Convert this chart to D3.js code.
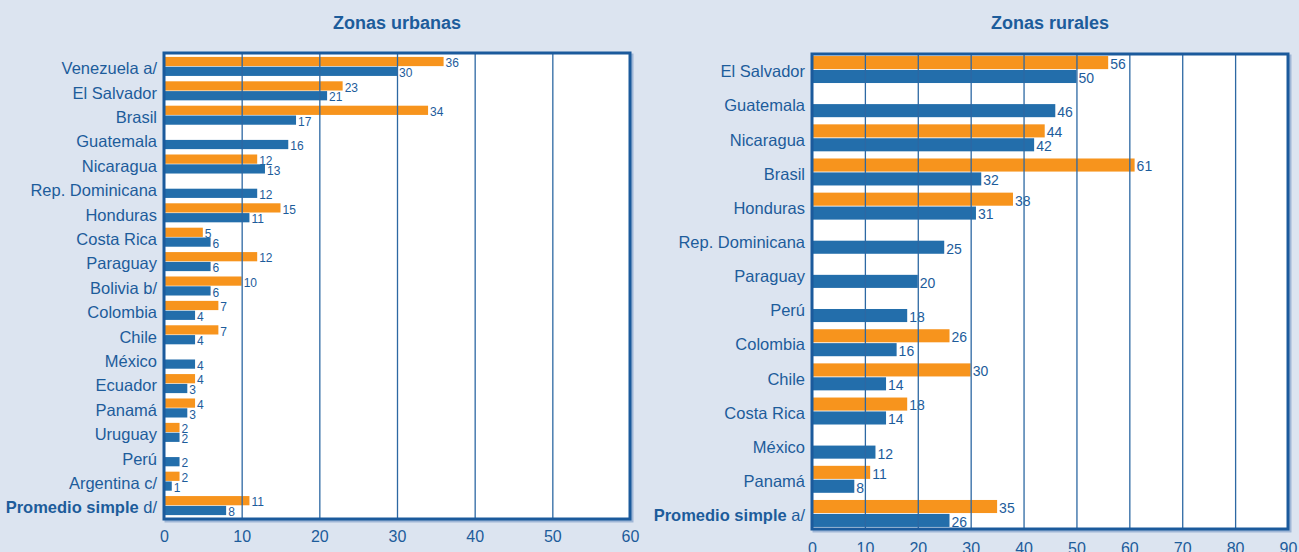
<!DOCTYPE html>
<html>
<head>
<meta charset="utf-8">
<script src="https://cdn.jsdelivr.net/npm/d3@7"></script>
<style>
  html, body { margin: 0; padding: 0; background: #dce4f0; }
  svg { display: block; }
</style>
</head>
<body>
<div id="chart"></div>
<script>
/*
* Zonas urbanas / Zonas rurales
*/

// urban panel
var urbanCategories = ["Venezuela a/", "El Salvador", "Brasil", "Guatemala", "Nicaragua",
    "Rep. Dominicana", "Honduras", "Costa Rica", "Paraguay", "Bolivia b/", "Colombia",
    "Chile", "México", "Ecuador", "Panamá", "Uruguay", "Perú", "Argentina c/",
    "Promedio simple d/"];
var urbanOrange = [36, 23, 34, null, 12, null, 15, 5, 12, 10, 7, 7, null, 4, 4, 2, null, 2, 11];
var urbanBlue   = [30, 21, 17, 16, 13, 12, 11, 6, 6, 6, 4, 4, 4, 3, 3, 2, 2, 1, 8];
var urbanTicks  = [0, 10, 20, 30, 40, 50, 60];

// rural panel
var ruralCategories = ["El Salvador", "Guatemala", "Nicaragua", "Brasil", "Honduras",
    "Rep. Dominicana", "Paraguay", "Perú", "Colombia", "Chile", "Costa Rica", "México",
    "Panamá", "Promedio simple a/"];
var ruralOrange = [56, null, 44, 61, 38, null, null, null, 26, 30, 18, null, 11, 35];
var ruralBlue   = [50, 46, 42, 32, 31, 25, 20, 18, 16, 14, 14, 12, 8, 26];
var ruralTicks  = [0, 10, 20, 30, 40, 50, 60, 70, 80, 90];

(function () {

    "use strict";

    var ORANGE = "#f7941d",
        BLUE = "#236eab",
        TEXT = "#1d5c9b",
        FRAME = "#1b5a9c",
        GRID = "#2d68a3",
        FONT = "'Liberation Sans', Arial, sans-serif";

    var svg = d3.select("#chart")
        .append("svg")
            .attr("width", 1299)
            .attr("height", 552);

    svg.append("rect")
        .attr("width", 1299)
        .attr("height", 552)
        .attr("fill", "#dce4f0");

    function drawPanel(cfg) {

        var g = svg.append("g");

        var x = d3.scaleLinear()
            .domain([0, cfg.max])
            .range([cfg.left, cfg.right]);

        var y = d3.scaleBand()
            .domain(cfg.categories)
            .range([cfg.top, cfg.bottom])
            .paddingInner(cfg.padInner)
            .paddingOuter(cfg.padOuter);

        var sub = d3.scaleBand()
            .domain(["orange", "blue"])
            .range([0, y.bandwidth()])
            .paddingInner(0.06);

        // light shadow round the frame
        g.append("rect")
            .attr("x", cfg.left + 2)
            .attr("y", cfg.top + 2)
            .attr("width", cfg.right - cfg.left)
            .attr("height", cfg.bottom - cfg.top)
            .attr("fill", "none")
            .attr("stroke", "#9fb6d6")
            .attr("stroke-width", 3);

        // plot area
        g.append("rect")
            .attr("x", cfg.left)
            .attr("y", cfg.top)
            .attr("width", cfg.right - cfg.left)
            .attr("height", cfg.bottom - cfg.top)
            .attr("fill", "#ffffff");

        var rows = cfg.categories.map(function (c, i) {
            return { cat: c, orange: cfg.orange[i], blue: cfg.blue[i] };
        });

        // bars + value labels
        ["orange", "blue"].forEach(function (key) {
            var data = rows.filter(function (d) { return d[key] !== null; });

            g.selectAll(".bar-" + key)
                .data(data)
                .enter()
                .append("rect")
                    .attr("class", "bar-" + key)
                    .attr("x", x(0))
                    .attr("y", function (d) { return y(d.cat) + sub(key); })
                    .attr("width", function (d) { return x(d[key]) - x(0); })
                    .attr("height", sub.bandwidth())
                    .attr("fill", key === "orange" ? ORANGE : BLUE);

            g.selectAll(".val-" + key)
                .data(data)
                .enter()
                .append("text")
                    .attr("class", "val-" + key)
                    .attr("x", function (d) { return x(d[key]) + 2; })
                    .attr("y", function (d) { return y(d.cat) + sub(key) + sub.bandwidth() / 2 + 1.5; })
                    .attr("dy", "0.35em")
                    .attr("fill", TEXT)
                    .attr("font-family", FONT)
                    .attr("font-size", cfg.valueSize)
                    .text(function (d) { return d[key]; });
        });

        // vertical grid lines (over the bars, as in the original)
        g.append("g")
            .attr("transform", "translate(0," + cfg.bottom + ")")
            .call(d3.axisBottom(x)
                .tickValues(cfg.ticks.slice(1, -1))
                .tickSize(-(cfg.bottom - cfg.top))
                .tickFormat(""))
            .call(function (a) { a.select(".domain").remove(); })
            .selectAll("line")
                .attr("stroke", GRID)
                .attr("stroke-width", 1.3);

        // frame
        g.append("rect")
            .attr("x", cfg.left)
            .attr("y", cfg.top)
            .attr("width", cfg.right - cfg.left)
            .attr("height", cfg.bottom - cfg.top)
            .attr("fill", "none")
            .attr("stroke", FRAME)
            .attr("stroke-width", 3);

        // x axis labels
        var ax = g.append("g")
            .attr("transform", "translate(0," + cfg.bottom + ")")
            .call(d3.axisBottom(x)
                .tickValues(cfg.ticks)
                .tickSize(0)
                .tickPadding(cfg.tickPad));
        ax.select(".domain").remove();
        ax.selectAll("text")
            .attr("fill", TEXT)
            .attr("font-family", FONT)
            .attr("font-size", 16);

        // category labels
        var labels = g.selectAll(".cat")
            .data(cfg.categories)
            .enter()
            .append("text")
                .attr("class", "cat")
                .attr("x", cfg.left - 7)
                .attr("y", function (d) { return y(d) + y.bandwidth() / 2 + 2; })
                .attr("dy", "0.35em")
                .attr("text-anchor", "end")
                .attr("fill", TEXT)
                .attr("font-family", FONT)
                .attr("font-size", 16.5);

        labels.each(function (d) {
            var t = d3.select(this);
            if (d.indexOf("Promedio simple") === 0) {
                t.append("tspan").attr("font-weight", "bold").text("Promedio simple");
                t.append("tspan").text(d.slice("Promedio simple".length));
            } else {
                t.text(d);
            }
        });

        // title
        g.append("text")
            .attr("x", (cfg.left + cfg.right) / 2)
            .attr("y", 29)
            .attr("text-anchor", "middle")
            .attr("fill", TEXT)
            .attr("font-family", FONT)
            .attr("font-weight", "bold")
            .attr("font-size", 18)
            .text(cfg.title);
    }

    drawPanel({
        title: "Zonas urbanas",
        categories: urbanCategories,
        orange: urbanOrange,
        blue: urbanBlue,
        ticks: urbanTicks,
        max: 60,
        left: 164, right: 630, top: 53, bottom: 519,
        padInner: 0.22, padOuter: 0.16,
        valueSize: 12,
        tickPad: 12
    });

    drawPanel({
        title: "Zonas rurales",
        categories: ruralCategories,
        orange: ruralOrange,
        blue: ruralBlue,
        ticks: ruralTicks,
        max: 90,
        left: 812, right: 1288, top: 54, bottom: 529,
        padInner: 0.21, padOuter: 0.06,
        valueSize: 14,
        tickPad: 14
    });

}());
</script>
</body>
</html>
